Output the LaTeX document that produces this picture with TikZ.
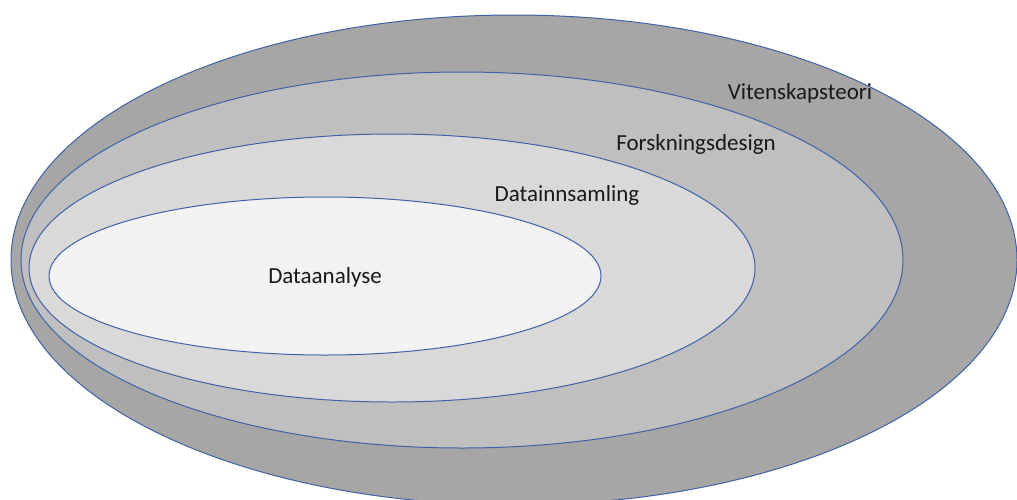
\documentclass[tikz,border=0pt]{standalone}
\usepackage{fontspec}
\setmainfont{Carlito}
\definecolor{ringline}{RGB}{62,98,168}
\definecolor{outerfill}{RGB}{166,166,166}
\definecolor{designfill}{RGB}{191,191,191}
\definecolor{collectfill}{RGB}{217,217,217}
\definecolor{innerfill}{RGB}{242,242,242}
\begin{document}
\begin{tikzpicture}[
    x=1pt, y=-1pt,
    line join=round, line cap=round,
    every node/.style={font=\fontsize{23}{27}\selectfont, text=black!90, inner sep=0pt},
    ring/.style={draw=ringline, line width=1pt}
]
    % Frame of the picture; the outer ring runs just past its edges.
    \useasboundingbox (0,0) rectangle (1017,499);
    \clip (0,0) rectangle (1017,499);

    % Nested rings, outermost first, each drawn over the one before.
    \path[ring, fill=outerfill]   (514,260) ellipse [x radius=503, y radius=245];
    \path[ring, fill=designfill]  (462,260) ellipse [x radius=441, y radius=188];
    \path[ring, fill=collectfill] (392,268) ellipse [x radius=363, y radius=134];
    \path[ring, fill=innerfill]   (325,276) ellipse [x radius=276, y radius=79];

    % One label per ring.
    \node (teori)    at (800,93)  {Vitenskapsteori};
    \node (design)   at (696,144) {Forskningsdesign};
    \node (innsamling) at (567,195) {Datainnsamling};
    \node (analyse)  at (325,277) {Dataanalyse};
\end{tikzpicture}
\end{document}
